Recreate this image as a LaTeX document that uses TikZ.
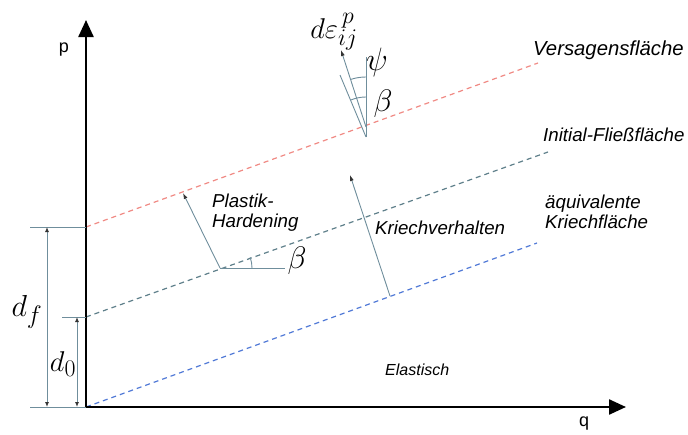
\documentclass[tikz,border=0pt]{standalone}
\usepackage{fontspec}
\setmainfont{Liberation Sans}
\usetikzlibrary{arrows.meta}
\definecolor{thin}{HTML}{6F8E9C}
\definecolor{redd}{HTML}{F08A84}
\definecolor{initc}{HTML}{5E7F8A}
\definecolor{bluec}{HTML}{4F78D6}
\newcommand{\bigmath}[2]{\scalebox{#1}{\fontsize{24.88}{26}\selectfont$#2$}}
\tikzset{
  axis/.style={line width=2.4pt,-{Triangle[length=17pt,width=15pt]}},
  thinline/.style={line width=0.9pt, draw=thin},
  thinarrow/.style={thinline,-{Latex[length=6pt,width=4pt,color=black!80]}},
  dimarrow/.style={thinline,{Latex[length=5pt,width=4pt,color=black!80]}-{Latex[length=5pt,width=4pt,color=black!80]}},
  surf/.style={dash pattern=on 5pt off 4pt, line width=1.2pt},
  lab/.style={font=\fontsize{18.7}{20}\selectfont\itshape, inner sep=0pt, anchor=west},
  ax/.style={font=\fontsize{18}{20}\selectfont, inner sep=0pt},
  mathlab/.style={inner sep=0pt}
}
\begin{document}
\begin{tikzpicture}[x=1pt,y=-1pt]
\useasboundingbox (0,0) rectangle (688,434);
% surfaces
\coordinate (r0) at (86,227); \coordinate (r1) at (538,63);
\coordinate (i0) at (86,317); \coordinate (i1) at (548,152);
\coordinate (b0) at (86,407); \coordinate (b1) at (537,243);
\draw[surf, draw=redd] (r0) -- (r1);
\draw[surf, draw=initc] (i0) -- (i1);
\draw[surf, draw=bluec] (b0) -- (b1);
% axes
\coordinate (O) at (86,407);
\coordinate (pt) at (86,20);
\coordinate (qt) at (626,407);
\draw[axis] (O) -- (pt);
\draw[axis] ([xshift=-1.2pt]O) -- (qt);
\node[ax] (plab) at (64,50) {p};
\node[ax] (qlab) at (584,424) {q};
% dimension lines
\coordinate (t1a) at (30,227); \coordinate (t2a) at (62,317); \coordinate (t3a) at (30,407);
\draw[thinline] (t1a) -- (r0);
\draw[thinline] (t2a) -- (i0);
\draw[thinline] (t3a) -- (O);
\coordinate (df1) at (47,227); \coordinate (df2) at (47,407);
\coordinate (d01) at (77,317); \coordinate (d02) at (77,407);
\draw[dimarrow] (df1) -- (df2);
\draw[dimarrow] (d01) -- (d02);
\node[mathlab] (dflab) at (27,312) {\bigmath{1.22}{d_f}};
\node[mathlab] (d0lab) at (63,364) {\bigmath{1.15}{d_0}};
% Plastik-Hardening
\coordinate (pa) at (220,268); \coordinate (pb) at (183,193); \coordinate (ph) at (285,268);
\draw[thinarrow] (pa) -- (pb);
\draw[thinline] (pa) -- (ph);
\draw[thinline] (pa) ++(32,0) arc[start angle=0, end angle=-19.6, radius=32];
\node[mathlab] (beta1) at (297,261) {\bigmath{1.25}{\beta}};
\node[lab, align=left] (plast) at (212,213) {Plastik-\\Hardening};
% Kriechverhalten
\coordinate (ka) at (390,296); \coordinate (kb) at (350,175);
\draw[thinarrow] (ka) -- (kb);
\node[lab] (kriech) at (375,228) {Kriechverhalten};
% strain increment
\coordinate (v0) at (366,137); \coordinate (v1) at (366,57);
\coordinate (e0) at (366,127); \coordinate (e1) at (341,50);
\coordinate (n1) at (340,75);
\draw[thinline] (v0) -- (v1);
\draw[thinline] (v0) -- (n1);
\draw[thinarrow] (e0) -- (e1);
\draw[thinline] (e0) ++(0,-50) arc[start angle=-90, end angle=-108, radius=50];
\draw[thinline] (v0) ++(0,-40) arc[start angle=-90, end angle=-112, radius=40];
\node[mathlab] (eps) at (334,32) {\bigmath{1.15}{d\varepsilon_{ij}^{\,p}}};
\node[mathlab] (psi) at (377,62) {\bigmath{1.3}{\psi}};
\node[mathlab] (beta2) at (383,104) {\bigmath{1.25}{\beta}};
% labels
\node[lab, font=\fontsize{20.3}{22}\selectfont\itshape] (vers) at (533,50) {Versagensfläche};
\node[lab] (init) at (543,135) {Initial-Fließfläche};
\node[lab, align=left] (aeq) at (545,212) {äquivalente\\Kriechfläche};
\node[lab, font=\fontsize{16}{18}\selectfont\itshape] (elas) at (385,370) {Elastisch};
\end{tikzpicture}
\end{document}
